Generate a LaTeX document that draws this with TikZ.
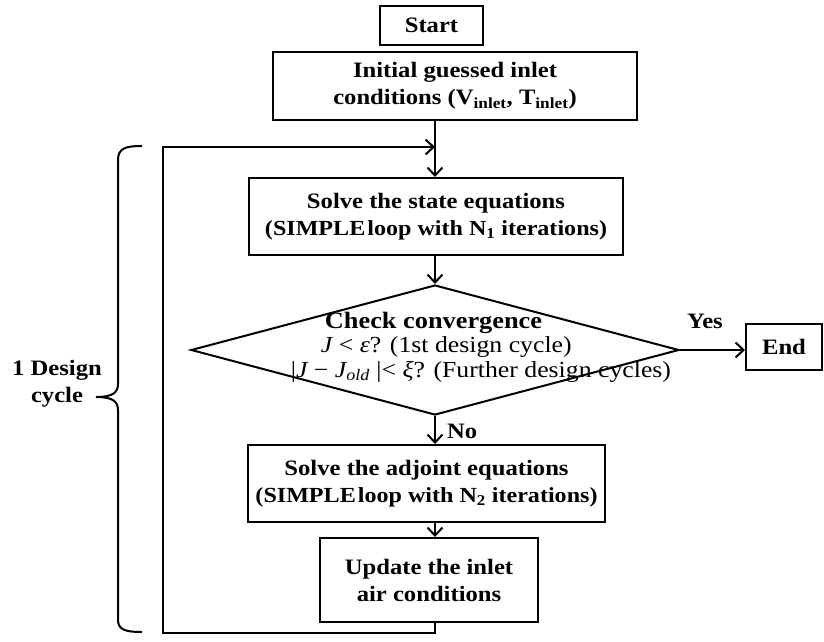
\documentclass[tikz,border=0pt]{standalone}
\usepackage{fontspec}
\setmainfont{Liberation Serif}[FakeStretch=1.12]
\usetikzlibrary{shapes.geometric,arrows.meta}
\newcommand{\mi}[1]{{\mdseries\itshape #1}}
\newcommand{\tfont}{\fontsize{22}{27}\selectfont\bfseries}
\newcommand{\subf}{\fontsize{21.5}{27}\selectfont}
\begin{document}
\begin{tikzpicture}[x=1pt,y=-1pt,
  box/.style={draw, line width=2pt, inner sep=0pt, align=center, font=\tfont},
  dia/.style={draw, shape=diamond, line width=2pt, inner sep=0pt, minimum width=488pt, minimum height=130pt},
  lbl/.style={font=\tfont, inner sep=0pt, align=center},
  arr/.style={line width=2pt, -{Straight Barb[length=8pt,width=15pt,line width=2pt]}},
  ln/.style={line width=2pt}]
\useasboundingbox (0,0) rectangle (824,641);
% boxes
\node[box, minimum width=103pt, minimum height=39pt] (start) at (431.5,25.5) {Start};
\node[box, minimum width=364pt, minimum height=68pt] (ini) at (455,86)
  {Initial guessed inlet\\conditions (V\textsubscript{inlet}, T\textsubscript{inlet})};
\node[box, minimum width=374pt, minimum height=77pt] (st) at (436,216.5)
  {Solve the state equations\\{\subf (SIMPLE\hspace{2pt}loop with N\textsubscript{1} iterations)}};
\node[dia] (chk) at (435,350) {};
\node[lbl, align=left, font=\fontsize{23}{24.5}\selectfont] (chktxt) at (481,347)
  {\hspace*{34pt}{\bfseries\fontsize{23.5}{24.5}\selectfont Check convergence}\\
  \hspace*{30pt}\mi{J} < \mi{ε}? (1st design cycle)\\
  |\mi{J} − \mi{J}\textsubscript{\mi{old}} |< \mi{ξ}? (Further design cycles)};
\node[box, minimum width=76pt, minimum height=46pt] (endb) at (784,347) {End};
\node[box, minimum width=357pt, minimum height=77pt] (adj) at (426.5,483.5)
  {Solve the adjoint equations\\{\subf (SIMPLE\hspace{2pt}loop with N\textsubscript{2} iterations)}};
\node[box, minimum width=218pt, minimum height=84pt] (upd) at (429,580)
  {Update the inlet\\air conditions};
% labels
\node[lbl] (yes) at (705,321) {Yes};
\node[lbl, anchor=west] (no) at (447,431) {No};
\node[lbl] (cyc) at (57,384) {1 Design\\cycle};
% loop coordinates
\coordinate (c1) at (435,633);
\coordinate (c2) at (163,633);
\coordinate (c3) at (163,147);
\coordinate (c4) at (435,147);
% connectors
\draw[arr] (c4 |- ini.south) -- (c4 |- st.north);
\draw[arr] (c4 |- st.south) -- (chk.north);
\draw[arr] (chk.south) -- (chk.south |- adj.north);
\draw[arr] (c4 |- adj.south) -- (c4 |- upd.north);
\draw[arr] (chk.east) -- (chk.east -| endb.west);
\draw[arr] (c1 |- upd.south) -- (c1) -- (c2) -- (c3) -- (c4);
% brace
\draw[ln] (142,146) .. controls (126,146) and (118,148) .. (118,160) -- (118,384)
  .. controls (118,393) and (112,397) .. (96,397)
  .. controls (112,397) and (118,401) .. (118,410) -- (118,620)
  .. controls (118,630) and (126,632) .. (142,632);
\end{tikzpicture}
\end{document}
